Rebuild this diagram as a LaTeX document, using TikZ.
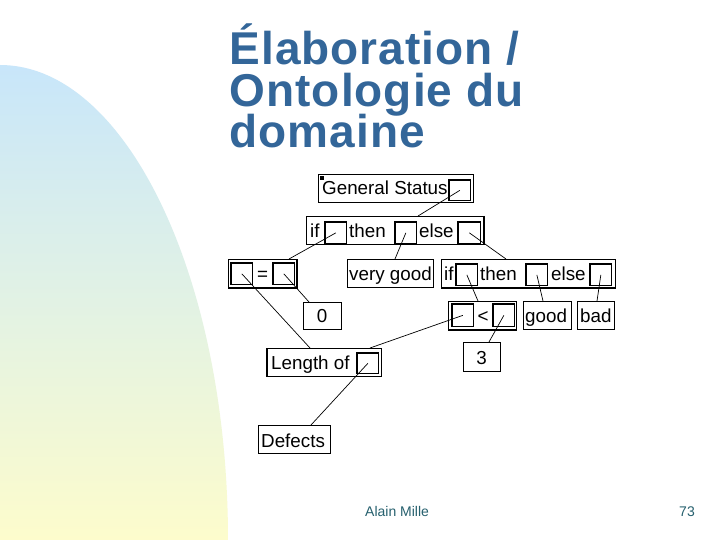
\documentclass[tikz,border=0pt]{standalone}
\usepackage{fontspec}
\setmainfont{Liberation Sans}
\newfontfamily\titlefont[LetterSpace=2.2]{Liberation Sans}
\definecolor{titleblue}{RGB}{51,102,153}
\definecolor{footteal}{RGB}{38,96,110}
\definecolor{bgtop}{RGB}{200,230,250}
\definecolor{bgbot}{RGB}{253,252,204}
\begin{document}
\begin{tikzpicture}[x=1pt,y=-1pt,
  obox/.style={draw, line width=0.7pt, fill=white, inner sep=0, anchor=north west},
  slot/.style={draw, line width=0.7pt, fill=white, inner sep=0, anchor=north west, minimum width=21, minimum height=21},
  lbl/.style={font=\fontsize{18.8}{19}\selectfont, inner sep=0, anchor=base west},
  clbl/.style={font=\fontsize{18.8}{19}\selectfont, inner sep=0, anchor=base},
  conn/.style={line width=0.7pt},
  shadowline/.style={line width=1.6pt},
  ttl/.style={font=\titlefont\fontsize{46}{46}\selectfont\bfseries, text=titleblue, inner sep=0, anchor=base west},
  foot/.style={font=\fontsize{14}{14}\selectfont, text=footteal, inner sep=0}]
\useasboundingbox (0,0) rectangle (720,540);
\fill[white] (0,0) rectangle (720,540);
% background blob
\shade[top color=bgtop, bottom color=bgbot, middle color={rgb,255:red,226;green,242;blue,228}]
  (0,540) -- (0,65) .. controls (126,65) and (228,278) .. (228,540) -- cycle;
% title
\node[ttl] (t1) at (229.5,65) {Élaboration /};
\node[ttl] (t2) at (229.5,106.5) {Ontologie du};
\node[ttl] (t3) at (229.5,148) {domaine};
% footer
\node[foot, anchor=base west] (author) at (365,516) {Alain Mille};
\node[foot, anchor=base east] (page) at (695,516) {73};

% boxes
\node[obox, minimum width=155, minimum height=28] (gs) at (318,174) {};
\node[draw, fill=black, inner sep=0, minimum size=3.5] (gsmark) at (321.5,177.5) {};
\node[lbl] (gsT) at (322,195) {General Status};
\node[slot, minimum height=20] (gsS) at (449,180) {};

\node[obox, minimum width=177, minimum height=28] (ite1) at (306,216) {};
\node[lbl] (ite1if) at (310,237) {if};
\node[lbl] (ite1then) at (349,237) {then};
\node[lbl] (ite1else) at (419,237) {else};
\node[slot] (ifA) at (325,222) {};
\node[slot] (thenA) at (395,222) {};
\node[slot, minimum width=22] (elseA) at (458,222) {};

\node[obox, minimum width=68, minimum height=28] (eq) at (228,259) {};
\node[slot] (eqL) at (231,263) {};
\node[slot] (eqR) at (273,263) {};
\node[clbl] (eqT) at (262.5,280) {=};

\node[obox, minimum width=86, minimum height=28] (vg) at (347,259) {};
\node[lbl] (vgT) at (349,280) {very good};

\node[obox, minimum width=174, minimum height=28] (ite2) at (441,259) {};
\node[lbl] (ite2if) at (444,280) {if};
\node[lbl] (ite2then) at (480,280) {then};
\node[lbl] (ite2else) at (551,280) {else};
\node[slot] (ifB) at (456,264) {};
\node[slot] (thenB) at (526,264) {};
\node[slot] (elseB) at (590,264) {};

\node[obox, minimum width=68, minimum height=28] (lt) at (448,301) {};
\node[slot, minimum height=22] (ltL) at (452,304) {};
\node[slot, minimum height=22] (ltR) at (493,304) {};
\node[clbl] (ltT) at (483,322) {<};

\node[obox, minimum width=48, minimum height=28] (good) at (523,301) {};
\node[lbl] (goodT) at (525,322) {good};
\node[obox, minimum width=37, minimum height=28] (bad) at (577,301) {};
\node[lbl] (badT) at (580,322) {bad};

\node[obox, minimum width=38, minimum height=27] (zero) at (303,302) {};
\node[clbl] (zeroT) at (322,322) {0};

\node[obox, minimum width=37, minimum height=29] (three) at (463,342) {};
\node[clbl] (threeT) at (481.5,364) {3};

\node[obox, minimum width=114, minimum height=28] (len) at (267,348) {};
\node[lbl] (lenT) at (271,369) {Length of};
\node[slot, minimum height=20] (lenS) at (357,353) {};

\node[obox, minimum width=72, minimum height=28] (def) at (258,425) {};
\node[lbl] (defT) at (261,447) {Defects};

% thicker edges
\foreach \s in {gsS,ifA,thenA,elseA,eqL,eqR,ifB,thenB,elseB,ltL,ltR,lenS}
  \draw[line width=1.3pt] (\s.south west) -- (\s.north west) -- (\s.north east);
\draw[shadowline] (ite1.north east) -- (ite1.south east);
\draw[shadowline] (eq.north east) -- (eq.south east) -- (eq.south west);
\draw[shadowline] (ite2.south west) -- (ite2.south east);
\draw[shadowline] (lt.south west) -- (lt.south east);
\draw[shadowline] (len.north west) -- (len.south west);

% attachment points
\coordinate (c1) at (418,216);
\coordinate (c2) at (289,259);
\coordinate (c3) at (395,259);
\coordinate (c4) at (506,259);
\coordinate (c5) at (310,348);
\coordinate (c6) at (309,302);
\coordinate (c7) at (478,301);
\coordinate (c8) at (543,301);
\coordinate (c9) at (597,301);
\coordinate (c10) at (370,348);
\coordinate (c11) at (489,342);
\coordinate (c12) at (311,425);

% connectors
\draw[conn] (gsS.center) -- (c1);
\draw[conn] (ifA.center) -- (c2);
\draw[conn] (thenA.center) -- (c3);
\draw[conn] (elseA.center) -- (c4);
\draw[conn] (eqL.center) -- (c5);
\draw[conn] (eqR.center) -- (c6);
\draw[conn] (ifB.center) -- (c7);
\draw[conn] (thenB.center) -- (c8);
\draw[conn] (elseB.center) -- (c9);
\draw[conn] (ltL.center) -- (c10);
\draw[conn] (ltR.center) -- (c11);
\draw[conn] (lenS.center) -- (c12);
\end{tikzpicture}
\end{document}
